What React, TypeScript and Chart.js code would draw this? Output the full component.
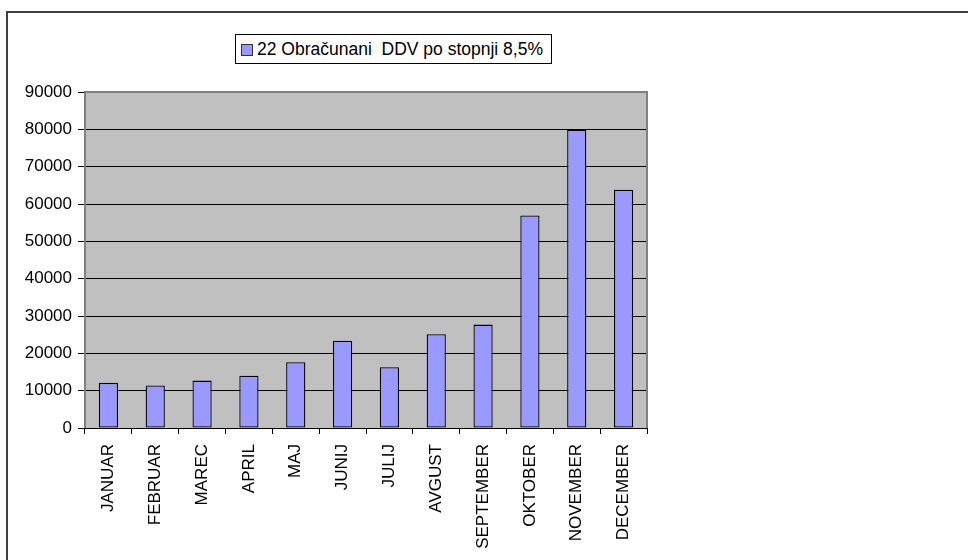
import React, { useEffect, useRef } from "react";
import { Chart, registerables } from "chart.js";

Chart.register(...registerables);

const categories = [
  "JANUAR", "FEBRUAR", "MAREC", "APRIL", "MAJ", "JUNIJ",
  "JULIJ", "AVGUST", "SEPTEMBER", "OKTOBER", "NOVEMBER", "DECEMBER",
];
const seriesLabel = "22 Obračunani  DDV po stopnji 8,5%";
const seriesValues = [12100, 11400, 12700, 14000, 17600, 23400, 16300, 25100, 27700, 56900, 79900, 63800];
const yMin = 0;
const yMax = 90000;
const yStep = 10000;

const FONT = "'Liberation Sans', Arial, Helvetica, sans-serif";

const plotFrame = {
  id: "plotFrame",
  beforeDraw(chart: any) {
    const { ctx, chartArea: a } = chart;
    ctx.save();
    ctx.fillStyle = "#C0C0C0";
    ctx.fillRect(a.left, a.top, a.right - a.left, a.bottom - a.top);
    ctx.restore();
  },
  beforeDatasetsDraw(chart: any) {
    const { ctx, chartArea: a } = chart;
    ctx.save();
    ctx.strokeStyle = "#808080";
    ctx.lineWidth = 2;
    ctx.beginPath();
    ctx.moveTo(a.left, a.bottom);
    ctx.lineTo(a.left, a.top);
    ctx.lineTo(a.right, a.top);
    ctx.lineTo(a.right, a.bottom);
    ctx.stroke();
    ctx.restore();
  },
};

export default function App() {
  const ref = useRef<HTMLCanvasElement | null>(null);

  useEffect(() => {
    if (!ref.current) return;
    const chart = new Chart(ref.current, {
      type: "bar",
      data: {
        labels: categories,
        datasets: [
          {
            label: seriesLabel,
            data: seriesValues,
            backgroundColor: "#9999FF",
            borderColor: "#000000",
            borderWidth: 1.3,
            borderSkipped: false,
            barPercentage: 0.41,
            categoryPercentage: 1,
          },
        ],
      },
      options: {
        animation: false,
        responsive: false,
        maintainAspectRatio: false,
        layout: { padding: { top: 92, right: 321, left: 0, bottom: 0 } },
        plugins: {
          legend: { display: false },
          tooltip: { enabled: false },
        },
        scales: {
          x: {
            offset: true,
            grid: {
              display: true,
              offset: true,
              drawOnChartArea: false,
              drawTicks: true,
              tickLength: 6,
              color: "#000000",
            },
            border: { display: true, color: "#000000", width: 1 },
            ticks: {
              minRotation: 90,
              maxRotation: 90,
              autoSkip: false,
              padding: 10,
              color: "#000000",
              font: { family: FONT, size: 17 },
            },
            afterFit(scale: any) {
              scale.height = 132;
            },
          },
          y: {
            min: yMin,
            max: yMax,
            grid: {
              color: "#000000",
              lineWidth: 1,
              drawTicks: true,
              tickLength: 7,
            },
            border: { display: false },
            ticks: {
              stepSize: yStep,
              padding: 6,
              color: "#000000",
              font: { family: FONT, size: 17 },
              callback: (v: any) => String(v),
            },
            afterFit(scale: any) {
              scale.width = 85;
            },
          },
        },
      },
      plugins: [plotFrame],
    });
    return () => chart.destroy();
  }, []);

  return (
    <div
      style={{
        position: "fixed",
        left: 0,
        top: 0,
        width: 968,
        height: 560,
        overflow: "hidden",
        background: "#ffffff",
      }}
    >
      <div
        style={{
          position: "absolute",
          left: 6,
          top: 11,
          width: 1100,
          height: 700,
          border: "2px solid #404040",
        }}
      />
      <canvas
        ref={ref}
        width={968}
        height={560}
        style={{ position: "absolute", left: 0, top: 0, width: 968, height: 560 }}
      />
      <div
        style={{
          position: "absolute",
          left: 235,
          top: 34,
          width: 315,
          height: 28,
          border: "1px solid #000000",
          background: "#ffffff",
          fontFamily: FONT,
          fontSize: 17.5,
          lineHeight: "28px",
          color: "#000000",
          whiteSpace: "pre",
        }}
      >
        <span
          style={{
            position: "absolute",
            left: 5,
            top: 9,
            width: 10,
            height: 10,
            background: "#9999FF",
            border: "1px solid #333333",
          }}
        />
        <span style={{ position: "absolute", left: 21, top: 0 }}>{seriesLabel}</span>
      </div>
    </div>
  );
}
